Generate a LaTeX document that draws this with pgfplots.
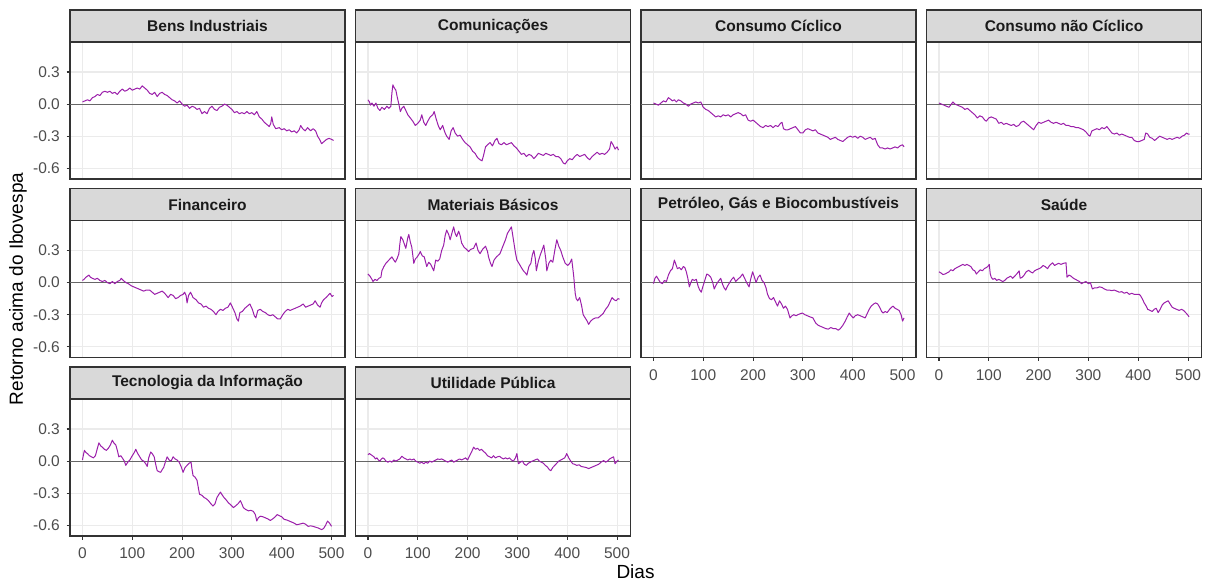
\documentclass[border=0pt]{standalone}
\usepackage{fontspec}
\setmainfont{Liberation Sans}
\usepackage{pgfplots}
\pgfplotsset{compat=1.18}
\definecolor{gridc}{HTML}{EBEBEB}
\definecolor{framec}{HTML}{333333}
\definecolor{stripfill}{HTML}{D9D9D9}
\definecolor{tickc}{HTML}{4D4D4D}
\definecolor{stript}{HTML}{1A1A1A}
\definecolor{linec}{RGB}{155,31,170}
\definecolor{zeroc}{HTML}{666666}
\pgfplotsset{
 panel/.style={
  scale only axis, width=275pt, height=137pt,
  xmin=-25, xmax=527, ymin=-0.70, ymax=0.58,
  xtick={0,100,200,300,400,500}, ytick={-0.6,-0.3,0,0.3},
  xmajorgrids=true, ymajorgrids=true, major grid style={draw=gridc, line width=1.1pt},
  axis line style={draw=framec, line width=1.1pt},
  tick align=outside, major tick length=3.5pt,
  xtick pos=bottom, ytick pos=left,
  tick style={draw=framec, line width=1.1pt},
  ticklabel style={font=\fontsize{15.5}{18}\selectfont, text=tickc, inner sep=0pt},
  xticklabel shift=8pt, yticklabel shift=6.5pt,
  anchor=south west, clip=true,
 },
 xl/.style={xticklabels={0,100,200,300,400,500}},
 xn/.style={xmajorticks=false},
 yl/.style={yticklabels={-0.6,-0.3,0.0,0.3}},
 yn/.style={ymajorticks=false},
 ser/.style={linec, line width=1pt, line join=round, mark=none},
}
\newcommand\zeroline{\addplot[zeroc, line width=1.1pt, forget plot] coordinates {(-25,0) (527,0)};}
\newcommand\strip[2]{%
 \draw[framec, line width=1.1pt, fill=stripfill] (#1.north west) rectangle ([yshift=32pt]#1.north east);
 \node[font=\bfseries\fontsize{15.5}{18}\selectfont, text=stript] at ([yshift=16pt]#1.north) {#2};}
\begin{document}
\begin{tikzpicture}
\useasboundingbox (0,0) rectangle (1207pt,581pt);

% Row 1
\begin{axis}[panel, yl, xn, name=p1, at={(70pt,402pt)}]
\zeroline
\addplot[ser] coordinates {(0,0.02) (5,0.03) (10,0.04) (15,0.03) (20,0.06) (25,0.07) (30,0.09) (35,0.08) (40,0.11) (45,0.12) (50,0.11) (55,0.12) (60,0.10) (65,0.11) (70,0.09) (75,0.12) (80,0.14) (85,0.12) (90,0.13) (95,0.15) (100,0.13) (105,0.14) (110,0.15) (115,0.14) (120,0.17) (125,0.15) (130,0.13) (135,0.10) (140,0.09) (145,0.11) (150,0.07) (155,0.10) (160,0.11) (165,0.09) (170,0.08) (175,0.06) (180,0.04) (185,0.03) (190,0.01) (195,0.03) (200,0.00) (205,-0.02) (210,-0.01) (215,-0.04) (220,-0.02) (225,-0.03) (230,-0.05) (235,-0.04) (240,-0.09) (245,-0.07) (250,-0.09) (255,-0.04) (260,-0.02) (265,-0.05) (270,-0.06) (275,-0.03) (280,-0.02) (285,0.00) (290,-0.01) (295,-0.03) (300,-0.05) (305,-0.08) (310,-0.07) (315,-0.09) (320,-0.08) (325,-0.09) (330,-0.07) (335,-0.09) (340,-0.08) (345,-0.10) (350,-0.07) (355,-0.12) (360,-0.14) (365,-0.17) (370,-0.19) (375,-0.21) (378,-0.18) (380,-0.12) (383,-0.19) (388,-0.23) (395,-0.22) (400,-0.24) (405,-0.23) (410,-0.25) (415,-0.24) (420,-0.26) (425,-0.25) (430,-0.27) (435,-0.24) (438,-0.20) (442,-0.23) (447,-0.25) (452,-0.22) (458,-0.25) (463,-0.23) (468,-0.25) (472,-0.30) (476,-0.33) (480,-0.37) (485,-0.35) (490,-0.33) (495,-0.32) (500,-0.33) (504,-0.34)};
\end{axis}
\strip{p1}{Bens Industriais}

\begin{axis}[panel, yn, xn, name=p2, at={(355.5pt,402pt)}]
\zeroline
\addplot[ser] coordinates {(0,0.04) (3,0.02) (5,-0.01) (8,0.01) (12,-0.02) (16,0.01) (20,-0.04) (24,-0.06) (28,-0.03) (33,-0.05) (38,-0.02) (42,-0.04) (46,-0.02) (48,0.10) (50,0.18) (53,0.15) (56,0.13) (59,0.06) (62,0.00) (65,-0.07) (68,-0.04) (72,-0.02) (75,-0.05) (80,-0.10) (85,-0.13) (90,-0.16) (95,-0.20) (100,-0.18) (105,-0.15) (108,-0.10) (112,-0.17) (116,-0.20) (120,-0.16) (125,-0.12) (130,-0.10) (133,-0.07) (137,-0.14) (141,-0.20) (145,-0.24) (150,-0.20) (154,-0.26) (158,-0.30) (163,-0.33) (167,-0.25) (171,-0.22) (175,-0.27) (180,-0.30) (185,-0.29) (190,-0.33) (195,-0.36) (200,-0.38) (205,-0.40) (210,-0.44) (215,-0.46) (220,-0.50) (225,-0.52) (229,-0.53) (232,-0.48) (236,-0.40) (240,-0.38) (245,-0.36) (250,-0.39) (255,-0.34) (259,-0.32) (263,-0.37) (268,-0.38) (273,-0.36) (278,-0.38) (283,-0.37) (288,-0.36) (293,-0.39) (298,-0.41) (303,-0.44) (308,-0.47) (313,-0.46) (318,-0.49) (323,-0.47) (328,-0.48) (333,-0.51) (337,-0.49) (342,-0.46) (347,-0.47) (352,-0.48) (357,-0.46) (362,-0.47) (367,-0.48) (372,-0.47) (377,-0.49) (382,-0.49) (387,-0.51) (392,-0.55) (396,-0.56) (400,-0.53) (405,-0.51) (410,-0.52) (415,-0.49) (420,-0.47) (425,-0.49) (430,-0.48) (435,-0.47) (440,-0.50) (445,-0.52) (450,-0.49) (455,-0.47) (460,-0.45) (465,-0.47) (470,-0.46) (475,-0.47) (480,-0.45) (485,-0.42) (488,-0.35) (492,-0.38) (496,-0.42) (500,-0.40) (503,-0.43)};
\end{axis}
\strip{p2}{Comunicações}

\begin{axis}[panel, yn, xn, name=p3, at={(641pt,402pt)}]
\zeroline
\addplot[ser] coordinates {(0,0.01) (5,0.00) (10,-0.01) (15,0.01) (20,0.03) (25,0.02) (30,0.06) (33,0.05) (38,0.03) (42,0.04) (46,0.02) (50,0.04) (55,0.03) (60,0.01) (65,0.00) (70,-0.02) (75,0.00) (80,0.01) (85,0.02) (90,0.01) (95,0.02) (100,-0.03) (105,-0.05) (110,-0.06) (115,-0.08) (120,-0.10) (125,-0.12) (130,-0.11) (135,-0.12) (140,-0.10) (145,-0.11) (150,-0.10) (155,-0.12) (160,-0.10) (165,-0.09) (170,-0.08) (175,-0.09) (180,-0.11) (185,-0.10) (190,-0.15) (195,-0.16) (200,-0.15) (205,-0.17) (210,-0.19) (215,-0.21) (220,-0.22) (225,-0.20) (230,-0.21) (235,-0.20) (240,-0.22) (245,-0.20) (250,-0.21) (255,-0.18) (258,-0.17) (261,-0.23) (265,-0.24) (270,-0.24) (275,-0.23) (280,-0.22) (285,-0.21) (290,-0.24) (295,-0.27) (300,-0.27) (305,-0.24) (310,-0.23) (315,-0.24) (320,-0.25) (325,-0.24) (330,-0.27) (335,-0.28) (340,-0.29) (345,-0.30) (350,-0.31) (355,-0.33) (360,-0.32) (365,-0.31) (370,-0.33) (375,-0.34) (380,-0.35) (385,-0.33) (390,-0.31) (395,-0.30) (400,-0.31) (405,-0.30) (410,-0.32) (415,-0.30) (420,-0.31) (425,-0.33) (430,-0.32) (435,-0.31) (440,-0.33) (445,-0.32) (450,-0.38) (455,-0.41) (460,-0.41) (465,-0.42) (470,-0.41) (475,-0.42) (480,-0.41) (485,-0.40) (490,-0.41) (495,-0.39) (500,-0.38) (503,-0.40)};
\end{axis}
\strip{p3}{Consumo Cíclico}

\begin{axis}[panel, yn, xn, name=p4, at={(926.5pt,402pt)}]
\zeroline
\addplot[ser] coordinates {(0,0.01) (5,0.00) (10,-0.01) (15,-0.02) (20,-0.03) (25,0.00) (28,0.02) (32,0.00) (37,-0.01) (42,-0.02) (47,-0.03) (52,-0.05) (57,-0.04) (62,-0.06) (67,-0.08) (72,-0.10) (77,-0.13) (82,-0.11) (87,-0.12) (92,-0.15) (95,-0.16) (100,-0.13) (105,-0.12) (110,-0.13) (115,-0.14) (120,-0.18) (125,-0.17) (130,-0.19) (135,-0.18) (140,-0.19) (145,-0.20) (150,-0.19) (155,-0.21) (160,-0.20) (165,-0.17) (170,-0.16) (175,-0.18) (180,-0.20) (185,-0.22) (190,-0.24) (195,-0.20) (200,-0.17) (205,-0.18) (210,-0.17) (215,-0.16) (220,-0.15) (225,-0.17) (230,-0.18) (235,-0.17) (240,-0.18) (245,-0.19) (250,-0.18) (255,-0.20) (260,-0.20) (265,-0.21) (270,-0.21) (275,-0.22) (280,-0.22) (285,-0.23) (290,-0.24) (295,-0.26) (300,-0.29) (303,-0.30) (307,-0.25) (312,-0.24) (317,-0.23) (322,-0.24) (327,-0.22) (332,-0.23) (337,-0.21) (342,-0.24) (347,-0.27) (352,-0.28) (357,-0.27) (362,-0.29) (367,-0.28) (372,-0.29) (377,-0.30) (382,-0.31) (387,-0.31) (392,-0.34) (397,-0.35) (402,-0.35) (407,-0.34) (412,-0.33) (415,-0.27) (419,-0.28) (423,-0.31) (428,-0.32) (433,-0.34) (438,-0.32) (443,-0.30) (448,-0.31) (453,-0.32) (458,-0.33) (463,-0.32) (468,-0.33) (473,-0.32) (478,-0.31) (483,-0.32) (488,-0.30) (493,-0.29) (497,-0.27) (500,-0.28) (503,-0.28)};
\end{axis}
\strip{p4}{Consumo não Cíclico}

% Row 2
\begin{axis}[panel, yl, xn, name=p5, at={(70pt,223.5pt)}]
\zeroline
\addplot[ser] coordinates {(0,0.02) (3,0.03) (7,0.05) (10,0.06) (13,0.07) (16,0.05) (20,0.04) (25,0.03) (30,0.04) (35,0.02) (40,0.01) (45,0.02) (50,0.00) (55,-0.01) (60,0.01) (65,-0.01) (70,0.01) (75,0.02) (78,0.04) (82,0.02) (87,0.00) (92,-0.01) (98,-0.03) (103,-0.04) (108,-0.05) (113,-0.06) (118,-0.07) (123,-0.08) (128,-0.07) (135,-0.07) (140,-0.09) (145,-0.11) (150,-0.10) (155,-0.09) (160,-0.08) (165,-0.10) (172,-0.14) (177,-0.11) (182,-0.12) (187,-0.15) (192,-0.14) (197,-0.12) (202,-0.11) (205,-0.09) (208,-0.12) (210,-0.19) (213,-0.12) (217,-0.09) (222,-0.14) (228,-0.16) (233,-0.19) (238,-0.20) (243,-0.23) (248,-0.22) (253,-0.24) (258,-0.25) (263,-0.27) (268,-0.30) (272,-0.27) (277,-0.25) (282,-0.26) (287,-0.24) (292,-0.23) (297,-0.19) (302,-0.24) (306,-0.28) (310,-0.34) (313,-0.36) (316,-0.28) (321,-0.27) (326,-0.24) (331,-0.22) (336,-0.20) (341,-0.25) (345,-0.31) (348,-0.33) (352,-0.26) (357,-0.25) (362,-0.27) (367,-0.28) (372,-0.30) (377,-0.31) (382,-0.30) (387,-0.32) (392,-0.34) (397,-0.34) (402,-0.30) (407,-0.27) (412,-0.25) (417,-0.26) (422,-0.25) (427,-0.24) (432,-0.23) (437,-0.22) (443,-0.20) (448,-0.23) (453,-0.22) (458,-0.21) (463,-0.20) (467,-0.17) (472,-0.21) (477,-0.23) (480,-0.19) (484,-0.16) (489,-0.14) (493,-0.12) (497,-0.10) (501,-0.13) (504,-0.12)};
\end{axis}
\strip{p5}{Financeiro}

\begin{axis}[panel, yn, xn, name=p6, at={(355.5pt,223.5pt)}]
\zeroline
\addplot[ser] coordinates {(0,0.08) (4,0.06) (8,0.03) (10,0.01) (14,0.03) (18,0.02) (22,0.04) (26,0.05) (28,0.11) (32,0.15) (36,0.18) (40,0.20) (44,0.22) (48,0.24) (52,0.21) (55,0.19) (59,0.23) (62,0.27) (64,0.36) (66,0.43) (70,0.40) (73,0.36) (76,0.32) (80,0.42) (82,0.45) (85,0.38) (88,0.33) (92,0.18) (95,0.22) (99,0.24) (103,0.27) (105,0.29) (109,0.25) (113,0.24) (118,0.15) (122,0.19) (126,0.17) (129,0.14) (132,0.11) (136,0.21) (140,0.20) (144,0.22) (148,0.30) (152,0.35) (155,0.44) (158,0.49) (162,0.45) (165,0.40) (169,0.47) (172,0.52) (175,0.46) (178,0.43) (182,0.48) (185,0.44) (188,0.37) (193,0.33) (198,0.31) (202,0.29) (206,0.31) (212,0.32) (217,0.37) (221,0.30) (225,0.27) (230,0.31) (236,0.34) (240,0.29) (242,0.24) (246,0.18) (249,0.15) (253,0.21) (258,0.24) (265,0.27) (270,0.33) (276,0.40) (280,0.46) (284,0.49) (288,0.52) (292,0.40) (296,0.28) (299,0.21) (303,0.18) (308,0.14) (312,0.11) (316,0.09) (319,0.07) (323,0.15) (327,0.18) (330,0.26) (333,0.30) (336,0.22) (338,0.11) (342,0.20) (346,0.26) (350,0.31) (353,0.35) (357,0.22) (359,0.11) (363,0.18) (367,0.21) (371,0.19) (375,0.30) (379,0.40) (383,0.34) (387,0.30) (391,0.24) (396,0.18) (401,0.16) (405,0.18) (409,0.22) (411,0.14) (413,0.06) (416,-0.10) (418,-0.15) (421,-0.17) (425,-0.14) (429,-0.22) (432,-0.30) (436,-0.33) (440,-0.36) (443,-0.39) (447,-0.36) (452,-0.34) (457,-0.33) (462,-0.33) (467,-0.31) (472,-0.29) (477,-0.25) (482,-0.22) (486,-0.18) (490,-0.14) (494,-0.16) (498,-0.17) (502,-0.15) (505,-0.155)};
\end{axis}
\strip{p6}{Materiais Básicos}

\begin{axis}[panel, yn, xl, name=p7, at={(641pt,223.5pt)}]
\zeroline
\addplot[ser] coordinates {(0,-0.01) (3,0.04) (6,0.06) (10,0.03) (14,0.00) (18,-0.01) (22,0.02) (26,0.01) (30,0.07) (34,0.11) (38,0.13) (42,0.21) (45,0.17) (48,0.13) (52,0.14) (56,0.12) (60,0.15) (63,0.14) (66,0.10) (69,0.04) (72,-0.04) (75,0.00) (78,0.03) (82,0.02) (86,0.03) (90,-0.04) (93,-0.07) (96,-0.09) (99,-0.04) (103,0.02) (107,0.08) (111,0.07) (115,0.05) (119,0.00) (122,-0.06) (126,-0.02) (130,0.01) (135,0.04) (139,-0.02) (142,-0.05) (145,-0.07) (149,-0.03) (153,0.00) (157,0.03) (161,0.05) (165,0.01) (169,0.03) (174,0.05) (179,0.08) (183,0.04) (187,0.00) (192,-0.04) (195,0.03) (199,0.10) (202,0.06) (206,0.00) (210,0.05) (214,0.07) (218,0.02) (222,0.00) (226,-0.05) (229,-0.11) (233,-0.15) (237,-0.16) (241,-0.14) (245,-0.18) (249,-0.22) (253,-0.17) (257,-0.20) (261,-0.24) (265,-0.22) (269,-0.25) (274,-0.33) (278,-0.31) (282,-0.30) (286,-0.31) (290,-0.30) (295,-0.29) (299,-0.285) (304,-0.30) (309,-0.31) (314,-0.32) (320,-0.33) (326,-0.38) (331,-0.40) (336,-0.41) (341,-0.42) (346,-0.43) (351,-0.435) (356,-0.42) (361,-0.43) (366,-0.43) (371,-0.445) (375,-0.43) (380,-0.40) (385,-0.36) (389,-0.32) (393,-0.285) (397,-0.31) (401,-0.33) (405,-0.31) (410,-0.30) (415,-0.31) (420,-0.32) (425,-0.33) (429,-0.29) (433,-0.25) (437,-0.22) (442,-0.20) (446,-0.19) (450,-0.20) (454,-0.23) (458,-0.27) (461,-0.285) (465,-0.27) (469,-0.28) (474,-0.25) (478,-0.23) (481,-0.22) (485,-0.24) (489,-0.25) (493,-0.26) (497,-0.30) (500,-0.36) (503,-0.33)};
\end{axis}
\strip{p7}{Petróleo, Gás e Biocombustíveis}

\begin{axis}[panel, yn, xl, name=p8, at={(926.5pt,223.5pt)}]
\zeroline
\addplot[ser] coordinates {(0,0.10) (4,0.09) (8,0.075) (12,0.08) (16,0.09) (20,0.10) (24,0.12) (28,0.11) (32,0.13) (36,0.14) (40,0.15) (44,0.16) (48,0.17) (52,0.16) (56,0.17) (60,0.16) (64,0.15) (68,0.12) (72,0.11) (75,0.08) (79,0.10) (83,0.12) (87,0.11) (91,0.13) (95,0.14) (98,0.15) (101,0.17) (103,0.08) (105,0.05) (108,0.03) (112,0.04) (116,0.02) (120,0.03) (124,0.02) (128,0.01) (132,0.02) (136,0.04) (140,0.05) (144,0.06) (148,0.04) (152,0.06) (156,0.08) (161,0.11) (163,0.04) (167,0.05) (171,0.07) (175,0.10) (180,0.115) (184,0.10) (188,0.09) (192,0.11) (196,0.12) (201,0.13) (205,0.14) (209,0.16) (213,0.15) (218,0.13) (222,0.16) (228,0.185) (232,0.16) (236,0.17) (240,0.18) (245,0.17) (250,0.18) (255,0.185) (257,0.05) (261,0.07) (265,0.06) (270,0.04) (274,0.03) (278,0.02) (282,0.01) (286,-0.01) (290,0.00) (295,0.01) (300,-0.01) (304,0.00) (308,-0.06) (312,-0.05) (317,-0.05) (322,-0.04) (327,-0.045) (332,-0.06) (337,-0.07) (342,-0.07) (347,-0.075) (352,-0.07) (357,-0.08) (362,-0.09) (367,-0.085) (372,-0.10) (377,-0.09) (382,-0.11) (387,-0.10) (392,-0.11) (397,-0.11) (402,-0.11) (405,-0.125) (409,-0.16) (412,-0.19) (416,-0.22) (419,-0.25) (424,-0.26) (428,-0.27) (432,-0.25) (436,-0.24) (440,-0.28) (444,-0.25) (448,-0.21) (452,-0.19) (456,-0.18) (460,-0.17) (464,-0.20) (468,-0.23) (472,-0.24) (477,-0.25) (482,-0.26) (487,-0.25) (491,-0.26) (495,-0.28) (499,-0.30) (502,-0.32)};
\end{axis}
\strip{p8}{Saúde}

% Row 3
\begin{axis}[panel, yl, xl, name=p9, at={(70pt,45pt)}]
\zeroline
\addplot[ser] coordinates {(0,0.01) (2,0.06) (4,0.10) (7,0.08) (10,0.07) (14,0.05) (18,0.04) (22,0.03) (26,0.05) (30,0.12) (33,0.17) (37,0.14) (40,0.13) (44,0.11) (48,0.10) (52,0.12) (56,0.15) (60,0.195) (63,0.17) (67,0.15) (70,0.10) (73,0.04) (77,0.05) (80,0.03) (84,0.00) (87,-0.04) (91,-0.01) (95,0.01) (100,0.05) (104,0.08) (107,0.11) (111,0.07) (115,0.04) (119,0.01) (123,0.00) (127,-0.025) (130,-0.05) (133,0.03) (137,0.085) (140,0.07) (144,0.04) (147,-0.03) (150,-0.09) (154,-0.10) (157,-0.105) (160,-0.08) (163,-0.06) (167,0.00) (170,0.04) (174,0.01) (178,0.00) (182,0.04) (186,0.02) (190,0.01) (194,-0.01) (198,-0.05) (202,-0.105) (206,-0.06) (210,-0.04) (214,-0.02) (218,-0.01) (220,-0.08) (222,-0.135) (226,-0.15) (230,-0.18) (233,-0.26) (235,-0.31) (240,-0.32) (244,-0.34) (248,-0.35) (253,-0.37) (258,-0.40) (262,-0.42) (266,-0.40) (270,-0.34) (274,-0.31) (277,-0.29) (281,-0.32) (284,-0.34) (288,-0.36) (293,-0.39) (298,-0.41) (303,-0.435) (307,-0.42) (312,-0.40) (317,-0.37) (320,-0.40) (323,-0.435) (327,-0.45) (333,-0.465) (338,-0.46) (343,-0.47) (347,-0.50) (350,-0.56) (353,-0.53) (357,-0.515) (362,-0.52) (367,-0.53) (372,-0.54) (377,-0.555) (382,-0.54) (387,-0.52) (391,-0.50) (395,-0.51) (400,-0.52) (405,-0.545) (410,-0.55) (415,-0.56) (420,-0.57) (425,-0.58) (430,-0.595) (435,-0.59) (443,-0.58) (448,-0.59) (453,-0.61) (458,-0.605) (463,-0.61) (473,-0.625) (480,-0.64) (484,-0.63) (488,-0.60) (492,-0.56) (496,-0.58) (500,-0.61)};
\end{axis}
\strip{p9}{Tecnologia da Informação}

\begin{axis}[panel, yn, xl, name=p10, at={(355.5pt,45pt)}]
\zeroline
\addplot[ser] coordinates {(0,0.06) (3,0.07) (6,0.06) (9,0.05) (12,0.04) (15,0.02) (18,0.03) (21,0.01) (24,0.00) (27,0.02) (30,0.03) (33,0.02) (36,0.00) (40,-0.01) (44,0.00) (48,-0.01) (52,0.01) (56,0.00) (60,0.01) (64,0.02) (68,0.045) (72,0.03) (76,0.02) (80,0.01) (84,0.02) (88,0.01) (92,0.02) (96,0.00) (100,-0.01) (104,-0.02) (108,-0.01) (112,-0.025) (116,-0.01) (120,-0.02) (124,0.00) (128,-0.01) (132,0.00) (136,0.01) (140,0.02) (144,0.015) (148,0.02) (152,0.01) (156,0.00) (160,-0.01) (164,0.00) (168,0.01) (172,-0.01) (176,0.00) (180,0.01) (184,0.02) (188,0.01) (192,0.02) (196,0.03) (200,0.01) (204,0.05) (208,0.085) (212,0.13) (216,0.11) (220,0.12) (224,0.10) (228,0.11) (232,0.09) (236,0.075) (240,0.05) (244,0.04) (248,0.03) (252,0.05) (256,0.03) (260,0.04) (264,0.045) (268,0.03) (272,0.02) (276,0.03) (280,0.02) (284,0.03) (288,0.01) (292,0.00) (296,0.03) (299,0.07) (302,-0.025) (306,-0.01) (310,0.00) (314,-0.03) (318,-0.04) (322,-0.02) (326,-0.01) (330,0.00) (335,0.01) (340,0.02) (344,0.00) (348,-0.01) (352,-0.02) (356,-0.04) (360,-0.055) (364,-0.08) (367,-0.09) (371,-0.06) (375,-0.04) (379,-0.02) (383,0.00) (387,0.01) (391,0.02) (395,0.03) (399,0.07) (403,0.03) (407,0.00) (411,-0.025) (415,-0.03) (419,-0.04) (424,-0.035) (428,-0.05) (433,-0.055) (438,-0.06) (443,-0.07) (448,-0.06) (453,-0.05) (458,-0.04) (463,-0.03) (468,-0.01) (473,0.005) (477,-0.01) (481,0.00) (485,0.02) (489,0.03) (493,0.04) (496,-0.025) (500,0.00) (503,0.01)};
\end{axis}
\strip{p10}{Utilidade Pública}

\node[rotate=90, font=\fontsize{19}{22}\selectfont] at (18pt,292pt) {Retorno acima do Ibovespa};
\node[font=\fontsize{19}{22}\selectfont] at (635.5pt,9pt) {Dias};
\end{tikzpicture}
\end{document}
